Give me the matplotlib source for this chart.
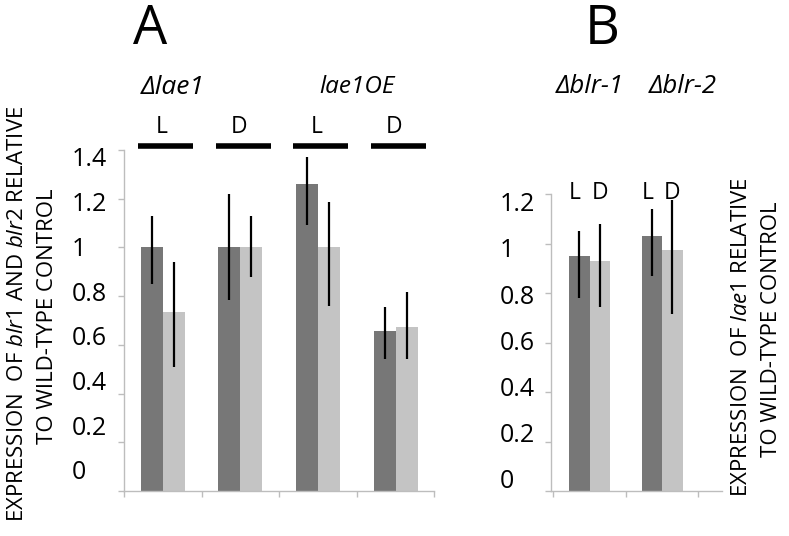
import numpy as np
import matplotlib
matplotlib.use('Agg')
import matplotlib.pyplot as plt

plt.rcParams['font.family'] = ['Open Sans', 'DejaVu Sans']
plt.rcParams['mathtext.fontset'] = 'custom'
plt.rcParams['mathtext.rm'] = 'Open Sans'
plt.rcParams['mathtext.it'] = 'Open Sans:italic'

# Panel A: blr1 / blr2 expression in lae1 mutants
a_groups = ['Δlae1', 'lae1OE']
a_conditions = ['L', 'D', 'L', 'D']
a_dark = [1.0, 1.0, 1.261, 0.655]
a_dark_lo = [0.848, 0.786, 1.091, 0.541]
a_dark_hi = [1.127, 1.218, 1.372, 0.757]
a_light = [0.733, 1.0, 1.0, 0.675]
a_light_lo = [0.509, 0.879, 0.758, 0.541]
a_light_hi = [0.940, 1.127, 1.188, 0.817]
a_ticks = [0, 0.2, 0.4, 0.6, 0.8, 1, 1.2, 1.4]

# Panel B: lae1 expression in blr mutants
b_groups = ['Δblr-1', 'Δblr-2']
b_dark = [0.951, 1.031]
b_dark_lo = [0.780, 0.868]
b_dark_hi = [1.050, 1.140]
b_light = [0.932, 0.974]
b_light_lo = [0.746, 0.717]
b_light_hi = [1.080, 1.178]
b_ticks = [0, 0.2, 0.4, 0.6, 0.8, 1, 1.2]

dark = '#777777'
light = '#c4c4c4'
spine = '#bdbdbd'
ylab_size = 16


def style_axes(ax, ticks, ymax, label_x, label_scale, label_off):
    for s in ['top', 'right']:
        ax.spines[s].set_visible(False)
    for s in ['left', 'bottom']:
        ax.spines[s].set_color(spine)
        ax.spines[s].set_linewidth(1)
    ax.set_ylim(0, ymax)
    ax.set_yticks(ticks)
    ax.set_yticklabels([])
    ax.tick_params(axis='both', colors=spine, length=4, width=1, direction='out')
    # tick labels are squeezed a bit relative to the tick marks in the original
    for t in ticks:
        ax.text(label_x, label_off + t * label_scale, f'{t:g}',
                transform=ax.get_yaxis_transform(), ha='left', va='center',
                fontsize=18, color='black')


def draw_bars(ax, centers, d, dlo, dhi, l, llo, lhi, w):
    xd = np.array(centers) - w / 2
    xl = np.array(centers) + w / 2
    ax.bar(xd, d, width=w, color=dark, zorder=2)
    ax.bar(xl, l, width=w, color=light, zorder=2)
    ax.vlines(xd, dlo, dhi, color='black', lw=1.6, zorder=3, clip_on=False)
    ax.vlines(xl, llo, lhi, color='black', lw=1.6, zorder=3, clip_on=False)
    return xd, xl


fig = plt.figure(figsize=(7.89, 5.36), dpi=100)

# ---- Panel A
axA = fig.add_axes([0.1572, 0.0840, 0.3933, 0.6362])
nA = len(a_dark)
centersA = np.arange(nA) + 0.5
draw_bars(axA, centersA, a_dark, a_dark_lo, a_dark_hi,
          a_light, a_light_lo, a_light_hi, 0.284)
axA.set_xlim(0, nA)
axA.set_xticks(np.arange(nA + 1))
axA.set_xticklabels([])
style_axes(axA, a_ticks, 1.4, -0.1685, 0.918, 0.074)

axA.hlines([1.416] * nA, centersA - 0.32, centersA + 0.39, color='black',
           lw=4, clip_on=False)
for c, cond in zip(centersA, a_conditions):
    axA.text(c - 0.02, 1.494, cond, ha='center', va='center', fontsize=16.5)
axA.text(0.63, 1.658, a_groups[0], ha='center', va='center',
         fontsize=19, style='italic')
axA.text(3.0, 1.658, a_groups[1], ha='center', va='center',
         fontsize=17.5, style='italic')

fig.text(150 / 789, 1 - 29.5 / 536, 'A', ha='center', va='center', fontsize=39)
fig.text(17.7 / 789, 1 - 314 / 536,
         r'EXPRESSION  OF $blr1$ AND $blr2$ RELATIVE',
         rotation=90, ha='center', va='center', fontsize=ylab_size)
fig.text(47.5 / 789, 1 - 316.5 / 536, 'TO WILD-TYPE CONTROL',
         rotation=90, ha='center', va='center', fontsize=ylab_size)

# ---- Panel B
axB = fig.add_axes([550.7 / 789, 0.0840, 171 / 789, (491 - 194.3) / 536])
nB = len(b_dark)
centersB = np.arange(nB) + 0.5
xd, xl = draw_bars(axB, centersB, b_dark, b_dark_lo, b_dark_hi,
                   b_light, b_light_lo, b_light_hi, 0.283)
axB.set_xlim(-0.036, 2.32)
axB.set_xticks(np.arange(nB + 1))
axB.set_xticklabels([])
style_axes(axB, b_ticks, 1.2, -0.296, 0.933, 0.038)

for x in xd:
    axB.text(x - 0.06, 1.205, 'L', ha='center', va='center', fontsize=16.5)
for x in xl:
    axB.text(x, 1.205, 'D', ha='center', va='center', fontsize=16.5)
axB.text(0.5, 1.634, b_groups[0], ha='center', va='center',
         fontsize=18.5, style='italic')
axB.text(1.79, 1.634, b_groups[1], ha='center', va='center',
         fontsize=18.5, style='italic')

fig.text(602 / 789, 1 - 29 / 536, 'B', ha='center', va='center', fontsize=39)
fig.text(741.7 / 789, 1 - 337 / 536,
         r'EXPRESSION  OF $lae1$ RELATIVE',
         rotation=90, ha='center', va='center', fontsize=ylab_size)
fig.text(771.5 / 789, 1 - 329 / 536, 'TO WILD-TYPE CONTROL',
         rotation=90, ha='center', va='center', fontsize=ylab_size)

fig.savefig('out.png', dpi=100)
